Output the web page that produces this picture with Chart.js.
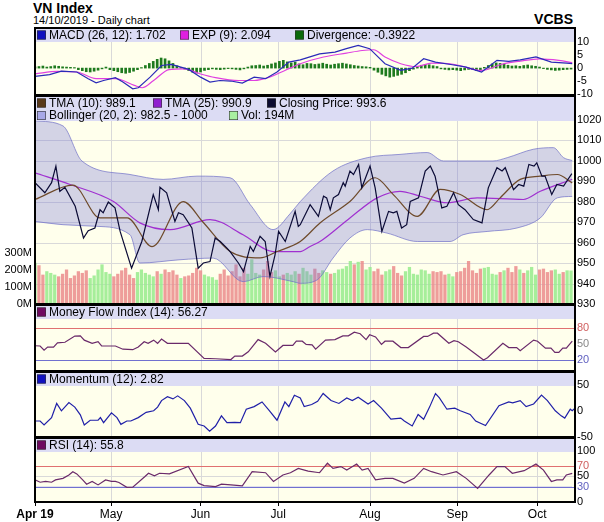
<!DOCTYPE html>
<html><head><meta charset="utf-8">
<script src="https://cdn.jsdelivr.net/npm/chart.js@4.4.0/dist/chart.umd.min.js"></script>
<style>
body{margin:0;background:#fff;width:604px;height:522px;overflow:hidden;font-family:"Liberation Sans",Arial,sans-serif}
canvas{position:absolute;left:0;top:0}
.t{position:absolute;color:#000}
</style></head><body>
<div class="t" style="left:33px;top:0px;font-size:14px;font-weight:bold">VN Index</div>
<div class="t" style="left:33px;top:14px;font-size:11px">14/10/2019 - Daily chart</div>
<div class="t" style="right:31px;top:11px;font-size:14px;font-weight:bold">VCBS</div>
<canvas id="c1" width="604" height="522"></canvas>
<canvas id="c2" width="604" height="522"></canvas>
<canvas id="c3" width="604" height="522"></canvas>
<canvas id="c4" width="604" height="522"></canvas>
<canvas id="c5" width="604" height="522"></canvas>
<script>
// ---------- data (x = trading-day index from 1 Apr 2019) ----------
const monthTicks = [0,19.3,42,61.7,85,107.1,127.4];
const monthLabels = ["Apr 19","May","Jun","Jul","Aug","Sep","Oct"];

const closeDays = [0,2.5,4.2,5.3,6.3,7.6,10.2,12.3,13.5,15.2,16.5,17.3,18.6,20.3,21.6,24.5,27.1,30,31.3,31.7,33.4,35.5,36.4,37.6,39.8,41.4,42.7,44.4,45.7,47,48.7,49.5,51.6,52.9,54.6,55.4,57.1,58.4,59.6,60.9,61.8,63.5,66,66.8,67.3,69.8,71.9,73.2,74,74.9,75.7,77,78.2,78.7,79.9,80.8,82.1,82.9,85,86.3,88,89.7,90.9,91.8,93,94.3,95.2,97.3,99,100.3,101.5,103.2,104.5,106.2,107.4,109.1,111.2,113.4,115,117.2,118.5,119.3,121.4,122.7,124,125.3,126.6,127.3,128.6,129.4,131.1,132.4,134.1,134.9,136.2];
const closeVals = [989.2,984.3,989.2,997.3,985,986.9,977.7,962.2,965.8,967.1,976,974.5,979.8,976.9,965.4,947.5,960.5,983.4,976,987,984.3,970.3,974.5,973.6,967.1,947.5,950,950.7,962.2,960.5,957.3,955.6,950,945.8,958.1,955.6,963,960.5,943.4,954,965.4,960.5,975.2,967.9,968.7,978.5,972.8,982.6,981.8,976,981.8,983.4,989.2,987.5,994.9,993.2,998.1,986.7,997.3,986.7,965.4,975.2,974.5,975.2,967.1,968.7,980.1,981.8,994.9,997.3,992.4,976.9,977.7,984.3,978.5,976,971.2,969.6,986.7,996.5,994.9,996.5,985.8,988.3,987.5,998.1,997.3,998.9,992.4,992.4,983.4,988.3,987.5,989.9,993.6];

const tma10Days = [0,9.6,16.5,23.4,29.7,37.6,42.6,49.5,57.1,61.4,67.3,72.3,79.9,86.3,90.9,97,102.8,107.9,114.7,118,123.1,128.2,132.5,136.3];
const tma10Vals = [981,988,972,972,958,980,970,955.6,952.5,955.6,960.5,969.5,980,991.6,983.4,972.8,985.9,983.4,976,981.8,990.8,992.4,993.2,989.1];

const tma25Days = [0,8.9,19.8,26.6,34.3,44.4,52.8,60.4,67.3,69.8,72.3,79.9,86.8,92.6,97.7,104.6,112.2,123.9,128.2,136.3];
const tma25Vals = [994,988.3,980.1,969.6,966.3,971.2,963.8,955.6,955.6,958.1,960.5,972,981.8,985,982.6,979.4,981.8,981,985,990.9];

const bollUpDays = [0,7.1,11.9,24.1,32.5,41.1,49.5,54.6,60.4,64.7,67.3,75.6,84.3,92.6,99.5,103.6,109.6,116.2,119.8,126.4,131.5,134.1,136.3];
const bollUpVals = [1019.4,1016.9,999.8,993.2,990.8,992.4,991.6,978.5,966.3,974,980,994.9,1001.4,1003,1003.9,999.8,999.8,999.8,1001.4,1005.5,1006.3,1001.4,1000];
const bollLoDays = [0,7.1,15.7,24.1,26.6,36.8,45.2,52.8,57.9,65.5,67.3,71.6,75.6,79.9,84.3,89.3,97,105.3,108.6,114.7,122.3,128.2,132.5,136.3];
const bollLoVals = [970.3,968.7,967.9,963.8,950,951.6,952.4,940.9,943.4,940.9,940.1,941.8,952.4,962.2,966.3,964.6,960.5,960.5,963.8,965.4,967.1,972,981.8,982.5];

const volume = [240,225,170,190,180,170,160,175,200,150,165,
190,180,195,150,165,200,230,185,175,160,
175,195,210,170,150,185,200,180,170,160,
190,175,200,185,195,170,150,160,165,180,210,
195,170,160,155,140,175,200,165,190,230,160,
210,175,260,180,170,200,250,185,195,160,170,
180,170,190,175,210,190,170,205,180,195,185,175,
180,200,205,220,250,230,245,250,200,215,190,205,
170,190,200,220,180,165,190,215,175,170,200,195,
175,190,185,190,170,175,160,185,190,210,250,195,
180,205,210,215,175,170,185,195,210,185,220,200,
180,195,215,170,200,205,185,195,200,175,185,195,194];

const macdDays = [0,3.7,6.7,10.6,13.5,15.5,17.4,20.4,22.3,24.8,26.2,29.2,32.1,34.6,37,39,42,44.4,46.9,49.7,52.6,55.6,58.5,61.4,64.4,67.3,72.2,76.1,79,82,84.9,88.8,92.8,95.7,98.6,101.6,105.5,109.4,113.3,117.2,120.2,123.1,127.1,131,134.9,136.3];
const macdVals = [-3.2,-2.5,-1.2,-1.5,-4.1,-5.7,-4.8,-3.7,-5.4,-8,-7.6,-3.5,1,1.4,0.4,-0.5,-3.5,-5.4,-4.8,-5,-5.8,-3.5,-4.1,-1.5,2.3,3.2,5.5,6.2,7.5,8.8,7.5,1.7,-0.9,0,3.6,2.3,1.4,0.4,-1.5,3,2.6,3.2,4.3,2.3,1.9,1.7];
const expDays = [0,5.7,10.6,15.5,20.4,25.2,27.2,30.1,34,37.9,41.8,45.8,51.7,55.6,59.5,63.4,67.3,73.2,79,83,85.9,88.8,92.8,96.7,100.6,106.5,113.3,118.2,123.1,128,132.9,136.3];
const expVals = [-2.2,-1.3,-1.5,-4.1,-4.1,-6.7,-7.6,-4.8,-0.6,-0.3,-2.2,-3.7,-4.8,-4.8,-3.5,-0.9,1.7,4.3,5.8,6.8,7.1,4.3,1.7,0.6,1.9,1.4,-0.9,1.4,2.7,3.6,3,2.1];
const divergence = [0.5,0.6,0.8,0.4,0.6,0.9,0.7,0.5,0.4,0.3,0.2,
-0.6,-1.0,-1.4,-1.5,-1.2,-0.8,-0.3,0.4,
-0.6,-1.0,-1.4,-1.8,-2.0,-1.7,-1.2,-0.6,0.2,
1.0,1.8,2.6,3.4,3.9,3.6,2.8,
1.8,0.9,0.2,-0.4,-1.0,-1.6,-1.9,-1.5,
-0.9,-0.6,-0.3,-0.5,-0.6,-0.4,-0.2,-0.3,-0.5,-0.7,-0.3,0.4,0.9,
1.0,1.2,0.8,1.1,1.6,2.0,2.6,3.0,2.4,
2.0,2.3,1.6,1.3,1.8,1.7,1.4,1.6,1.9,1.5,1.2,1.5,1.7,1.9,1.6,1.3,1.0,0.8,0.6,0.5,0.3,
-0.8,-1.6,-2.4,-3.0,-3.5,-3.2,-2.8,-2.4,-1.8,-1.0,-0.4,
0.6,1.1,1.4,1.3,0.9,0.6,
-0.3,-0.5,-0.7,-0.6,-0.8,-1.0,-0.7,-0.5,-0.6,-1.0,-0.8,
0.3,1.0,1.6,2.0,1.8,1.5,1.1,0.8,0.9,0.7,
1.0,1.2,0.9,0.7,0.4,-0.2,
-0.5,-0.7,-0.9,-0.8,-0.6,-0.5,-0.4];

const mfiDays = [0,1.3,2.3,3.2,4.7,5.7,7.6,10.1,11.5,12.5,14.5,16,16.9,20.4,22.3,24.8,26.2,27.7,28.7,30.1,31.1,32.1,33.6,38,38.9,42.9,45.8,49.7,50.7,52.6,54.1,56.6,58.5,61,62.9,65.4,66.3,67.8,68.8,70.3,71.2,73.7,76.1,78.1,79.5,81,82.5,84,84.9,86.4,87.9,88.8,90.8,92.8,94.7,98.6,99.6,101.1,102.1,105,106.3,107.4,109.4,113.8,114.8,118.7,120.2,122.2,123.1,126.5,127.5,129.5,130.9,131.9,132.9,133.9,134.8,136.3];
const mfiVals = [47.4,47,39.3,45,45,53,54,65.6,66,58,52,55,47,47,41,40,45,55,52,58,52,60,52,52,52,23.7,23,21.5,28,28,36,59,52,36,48,48,56,56,50,49,41,58,59,66,66,73,70,59,68,64,50,56,56,44,44,65,65,71,71,52,57,55,45,20.8,25,52,44,44,38,58,56,43,43,35,35,43,43,56.27];

const momDays = [0,1.3,2.3,4.2,5.5,6.7,8.6,10.1,11.5,12.5,14,16,16.6,17.4,19.4,20.8,21.8,23.3,24.3,26.2,28.2,30.1,31.1,32.1,33.6,35,36.2,37.9,39.4,41.4,42.9,44.3,45.8,47.3,48.7,50.7,52.1,53.6,55.6,57.6,59.5,61.4,63.4,64.4,65.8,67.3,68.3,70.2,71.7,73.1,75.1,77.1,79.1,80.5,82,84.5,85.9,87.9,90.3,92.8,93.7,95.7,97.2,98.6,100.1,101.6,102.6,104.5,106.5,107.9,110.4,111.8,114.3,117.7,120.2,121.2,123.1,124.6,126.5,128.5,130,132,133.5,134.4,135.8,136.3,137];
const momVals = [-19.5,-19.5,-27,-13,14,0,15.6,7,-7.6,-27,-18,-18,-13,-22.7,-4,-13,-25.9,-19.5,-19.5,-13,-3,0,7,19.5,27,22.7,28.5,19.5,5,-25.9,-29,-38.9,-29,-9.7,-22.7,-22,-22.7,3,8,16.9,0,-18,16.9,8,29.8,24.6,8,12,18,33,19.5,14,24.6,19.5,25.9,13,19.5,5,-16,-14,-19.5,-29,-7,-16,7,33,24.6,3,5,0,-7,-19.5,-28,9.7,16.9,15,19.5,8,13,29.8,19.5,0,-9.7,-14,3,0,5];

const rsiDays = [0,1.3,2.7,4.2,5.2,7.1,8.6,9.6,10.6,12.1,13.1,14.5,16,17.9,19.4,20.4,21.3,23.3,24.8,27.9,28.8,30.3,31.6,34.1,38.9,41.4,42.9,45.8,47.3,49.7,52.6,55.1,58.5,60.5,62.9,64.8,66.8,69.3,72.2,74.2,75.6,77.6,79.1,81.6,83,84.5,86.4,88.8,90.8,93.7,96.2,98.6,100.6,103.5,106.9,109.4,112.3,115.2,117.2,119.2,121.1,124.1,127.1,129,131,132.4,133.9,134.8,136.3];
const rsiVals = [43,38.5,40,38.5,43,46,52.6,59,54.7,43,34.6,40,33.3,43,40,40,38,28.5,29,49.6,56,51,56,54.7,69,36.7,32,30,34.6,33.3,31.3,59,57,40,52.6,57,65.4,60,57,75.6,65.4,69,62.2,74,62.2,65.4,43,46,46,36.7,46,65.4,59,52.6,59,46,26.6,52.6,69,69,56,61,74,62.2,40,43,43,52.6,55.8];

// ---------- helpers ----------
const PX_LEFT=35, XMAX=137, RW=29;
const FONT='"Liberation Sans", Arial, sans-serif';
const pts=(d,v)=>d.map((x,i)=>({x,y:v[i]}));
const SMOOTH={cubicInterpolationMode:'monotone'};
function closeAt(d){
  if(d<=closeDays[0])return closeVals[0];
  for(let i=1;i<closeDays.length;i++){ if(d<=closeDays[i]){const t=(d-closeDays[i-1])/(closeDays[i]-closeDays[i-1]);return closeVals[i-1]+t*(closeVals[i]-closeVals[i-1]);}}
  return closeVals[closeVals.length-1];
}
function panelPlugin(opts){
  return {id:'panel'+opts.id,
    beforeDraw(ch){const a=ch.chartArea,c=ch.ctx;c.save();c.fillStyle='#ffffec';c.fillRect(a.left,a.top,a.right-a.left,a.bottom-a.top);
      const xs=ch.scales.x;c.strokeStyle='#d9d9d9';c.lineWidth=1;
      monthTicks.slice(1).forEach(m=>{const px=Math.round(xs.getPixelForValue(m))+0.5;c.beginPath();c.moveTo(px,a.top);c.lineTo(px,a.bottom);c.stroke();});
      (opts.hlines||[]).forEach(h=>{const py=Math.round(ch.scales.y.getPixelForValue(h.v))+0.5;c.strokeStyle=h.c;c.beginPath();c.moveTo(a.left,py);c.lineTo(a.right,py);c.stroke();});
      c.restore();},
    afterDatasetsDraw(ch){const a=ch.chartArea,c=ch.ctx;c.save();
      c.fillStyle='#dcdcf4';c.fillRect(a.left,a.top,a.right-a.left,opts.band);
      c.font='12px '+FONT;c.textBaseline='middle';
      opts.items.forEach(it=>{const y=a.top+7+it.row*12.5;c.fillStyle=it.c;c.fillRect(it.x,y-4.5,9,9);c.strokeStyle='#333';c.lineWidth=0.6;c.strokeRect(it.x+0.3,y-4.2,8.4,8.4);c.fillStyle='#000';c.fillText(it.t,it.x+12,y+0.5);});
      c.strokeStyle='#000';c.lineWidth=2;c.strokeRect(a.left,a.top,a.right-a.left,a.bottom-a.top);
      c.restore();}
  };
}
function rightAxis(min,max,show,colorFn){
  return {position:'right',min,max,
    afterFit(s){s.width=RW;s.paddingTop=0;s.paddingBottom=0;},
    afterBuildTicks(s){s.ticks=show.map(v=>({value:v}));},
    grid:{display:false,drawTicks:false,tickLength:0},border:{display:false},
    ticks:{padding:2,autoSkip:false,font:{size:11,family:FONT},color:colorFn||'#000',callback:v=>v}};
}
const xHidden={type:'linear',min:0,max:XMAX,display:false,offset:false,grid:{offset:false}};
function base(top,bottom,extra){
  return {responsive:false,animation:false,events:[],
    layout:{padding:{top:top,bottom:522-bottom,left:PX_LEFT,right:0}},
    plugins:{legend:{display:false},tooltip:{enabled:false}},
    elements:{point:{radius:0},line:{tension:0,borderWidth:1.2}},...extra};
}

// ---------- MACD ----------
new Chart(document.getElementById('c1'),{type:'line',
  data:{datasets:[
    {type:'bar',data:divergence.map((v,i)=>({x:i,y:v})),backgroundColor:'#1e7a1e',barThickness:2,order:3},
    {data:pts(expDays,expVals),borderColor:'#e040e0',order:2,...SMOOTH},
    {data:pts(macdDays,macdVals),borderColor:'#2a2ab8',order:1}]},
  options:base(28,95,{scales:{x:xHidden,y:rightAxis(-10.4,15.5,[10,5,0,-5,-10])}}),
  plugins:[panelPlugin({id:1,band:14,items:[{c:'#1010c0',t:'MACD (26, 12): 1.702',x:37,row:0},{c:'#e020e0',t:'EXP (9): 2.094',x:180,row:0},{c:'#0a6a0a',t:'Divergence: -0.3922',x:295,row:0}]})]});

// ---------- Main ----------
const volColors=volume.map((v,i)=> i===0||closeAt(i)>=closeAt(i-1)?'rgba(150,235,140,0.85)':'rgba(235,140,140,0.85)');
const mainOpts=base(96,304,{scales:{x:xHidden,
  y:rightAxis(930,1031.5,[930,940,950,960,970,980,990,1000,1010,1020]),
  v:{position:'left',min:0,max:1218,
    afterFit(s){s.width=35;s.paddingTop=0;s.paddingBottom=0;},
    afterBuildTicks(s){s.ticks=[0,100,200,300].map(v=>({value:v}));},
    grid:{display:false,drawTicks:false},border:{display:false},
    ticks:{padding:3,font:{size:11,family:FONT},color:'#000',callback:v=>v+'M'}}}});
mainOpts.layout.padding.left=0;
new Chart(document.getElementById('c2'),{type:'line',
  data:{datasets:[
    {type:'bar',yAxisID:'v',data:volume.map((v,i)=>({x:i,y:v})),backgroundColor:volColors,barThickness:2.6,order:6},
    {data:pts(bollUpDays,bollUpVals),borderColor:'rgba(110,110,200,0.7)',borderWidth:1,fill:'+1',backgroundColor:'rgba(120,120,215,0.33)',order:5,...SMOOTH},
    {data:pts(bollLoDays,bollLoVals),borderColor:'rgba(110,110,200,0.7)',borderWidth:1,order:4,...SMOOTH},
    {data:pts(tma25Days,tma25Vals),borderColor:'#a030d0',order:3,...SMOOTH},
    {data:pts(tma10Days,tma10Vals),borderColor:'#6e4a2a',order:2,...SMOOTH},
    {data:pts(closeDays,closeVals),borderColor:'#0a0a35',order:1}]},
  options:mainOpts,
  plugins:[{id:'vgrid',beforeDatasetsDraw(ch){const a=ch.chartArea,c=ch.ctx,y=ch.scales.y;c.save();c.strokeStyle='#d9d9d9';c.lineWidth=1;
      for(let v=930;v<=1020;v+=10){const py=Math.round(y.getPixelForValue(v))+0.5;c.beginPath();c.moveTo(a.left,py);c.lineTo(a.right,py);c.stroke();}c.restore();}},
    panelPlugin({id:2,band:25,items:[{c:'#5a3a1a',t:'TMA (10): 989.1',x:37,row:0},{c:'#9020d0',t:'TMA (25): 990.9',x:153,row:0},{c:'#0a0a30',t:'Closing Price: 993.6',x:267,row:0},{c:'#a8a8e8',t:'Bollinger (20, 2): 982.5 - 1000',x:37,row:1},{c:'#a8f0a0',t:'Vol: 194M',x:229,row:1}]})]});

// ---------- MFI ----------
new Chart(document.getElementById('c3'),{type:'line',
  data:{datasets:[{data:pts(mfiDays,mfiVals),borderColor:'#6a2a6a'}]},
  options:base(305,371,{scales:{x:xHidden,y:rightAxis(0,124,[80,50,20],c=>c.tick.value===80?'#d06060':c.tick.value===20?'#6060c0':'#888')}}),
  plugins:[panelPlugin({id:3,band:14,hlines:[{v:80,c:'#e07070'},{v:20,c:'#7070d0'}],items:[{c:'#700a60',t:'Money Flow Index (14): 56.27',x:37,row:0}]})]});

// ---------- Momentum ----------
new Chart(document.getElementById('c4'),{type:'line',
  data:{datasets:[{data:pts(momDays,momVals),borderColor:'#2020a8'}]},
  options:base(372,437,{scales:{x:xHidden,y:rightAxis(-50,74,[50,0,-50])}}),
  plugins:[panelPlugin({id:4,band:14,items:[{c:'#1010c0',t:'Momentum (12): 2.82',x:37,row:0}]})]});

// ---------- RSI ----------
const rsiOpts=base(438,502,{scales:{
  x:{type:'linear',min:0,max:XMAX,position:'bottom',offset:false,
    afterFit(s){s.height=20;},
    afterBuildTicks(s){s.ticks=monthTicks.map(v=>({value:v}));},
    grid:{display:true,drawOnChartArea:false,tickLength:4,color:'#000'},border:{display:false},
    ticks:{autoSkip:false,maxRotation:0,padding:1,font:c=>({size:12,family:FONT,weight:c.index===0?'bold':'normal'}),color:'#000',
      callback:(v,i)=>monthLabels[i]}},
  y:rightAxis(0,124.6,[100,70,50,30,0],c=>c.tick.value===70?'#d06060':c.tick.value===30?'#6060c0':'#000')}});
rsiOpts.layout.padding.bottom=0;
new Chart(document.getElementById('c5'),{type:'line',
  data:{datasets:[
    {data:pts(rsiDays,rsiVals),borderColor:'#6a2a6a',fill:{target:{value:70},above:'rgba(230,80,80,0.6)',below:'rgba(0,0,0,0)'}},
    {data:pts(rsiDays,rsiVals),borderColor:'rgba(0,0,0,0)',fill:{target:{value:30},above:'rgba(0,0,0,0)',below:'rgba(80,80,230,0.7)'}}]},
  options:rsiOpts,
  plugins:[panelPlugin({id:5,band:14,hlines:[{v:70,c:'#e07070'},{v:50,c:'#d9d9d9'},{v:30,c:'#7070d0'}],items:[{c:'#700a60',t:'RSI (14): 55.8',x:37,row:0}]})]});
</script></body></html>
